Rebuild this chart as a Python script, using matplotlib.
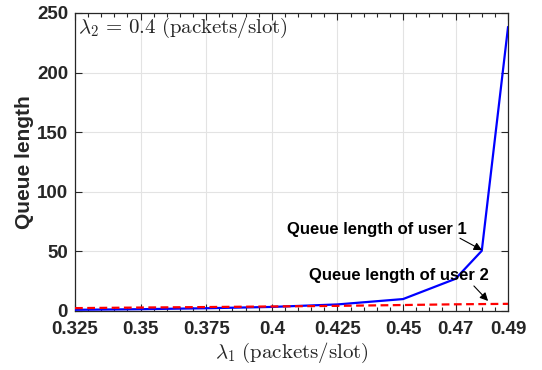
import matplotlib
matplotlib.use('Agg')
import matplotlib.pyplot as plt
import numpy as np

plt.rcParams['mathtext.fontset'] = 'cm'
plt.rcParams['font.family'] = ['Liberation Sans', 'DejaVu Sans']

# data
lam1 = [0.325, 0.35, 0.375, 0.4, 0.425, 0.45, 0.47, 0.48, 0.49]
q_user1 = [1.0, 1.5, 2.3, 3.4, 5.5, 10.0, 27.0, 50.5, 238.0]
q_user2 = [2.4, 2.9, 3.3, 3.8, 4.3, 5.0, 5.6, 5.8, 6.0]
xticks = [0.325, 0.35, 0.375, 0.4, 0.425, 0.45, 0.47, 0.49]
xticklabels = ['0.325', '0.35', '0.375', '0.4', '0.425', '0.45', '0.47', '0.49']
yticks = [0, 50, 100, 150, 200, 250]

dark = '#262626'

fig = plt.figure(figsize=(5.42, 3.70), dpi=100)
ax = fig.add_axes([0.1384, 0.1595, 0.7989, 0.8054])

ax.plot(lam1, q_user1, color='blue', lw=1.6, zorder=3)
ax.plot(lam1, q_user2, color='red', lw=1.6, dashes=(3.5, 2), zorder=3)

ax.set_xlim(0.325, 0.49)
ax.set_ylim(0, 250)
ax.set_xticks(xticks)
ax.set_xticklabels(xticklabels)
ax.set_yticks(yticks)
ax.set_xticks(np.arange(0.325, 0.4901, 0.005), minor=True)

ax.grid(True, which='major', color='#e3e3e3', lw=0.8)
ax.set_axisbelow(True)
ax.tick_params(which='both', direction='in', top=True, right=True, colors=dark,
               labelcolor=dark)
ax.tick_params(which='major', length=5, width=0.8, labelsize=13.5)
ax.tick_params(axis='x', which='major', pad=7)
ax.tick_params(axis='y', which='major', pad=5)
ax.tick_params(which='minor', length=3, width=0.8)
for lab in ax.get_xticklabels() + ax.get_yticklabels():
    lab.set_fontweight('bold')
for s in ax.spines.values():
    s.set_color(dark)
    s.set_linewidth(0.9)

ax.set_xlabel(r'$\lambda_1\ \mathrm{(packets/slot)}$', fontsize=15, color=dark, labelpad=2)
ax.set_ylabel('Queue length', fontsize=15, fontweight='bold', color=dark, labelpad=2)

ax.text(0.006, 0.95, r'$\lambda_2\,=\,0.4\ \mathrm{(packets/slot)}$', transform=ax.transAxes,
        fontsize=15, ha='left', va='center', color=dark)

ax.text(0.4058, 68, 'Queue length of user 1', fontsize=12, fontweight='bold',
        ha='left', va='center', color='black')
ax.text(0.4142, 30, 'Queue length of user 2', fontsize=12, fontweight='bold',
        ha='left', va='center', color='black')

arrow = dict(arrowstyle='-|>', color='black', lw=0.8, mutation_scale=12, shrinkA=0, shrinkB=0)
ax.annotate('', xy=(0.4801, 51), xytext=(0.4717, 61), arrowprops=arrow)
ax.annotate('', xy=(0.4824, 8.4), xytext=(0.4770, 21), arrowprops=arrow)

fig.savefig('out.png', dpi=100)
